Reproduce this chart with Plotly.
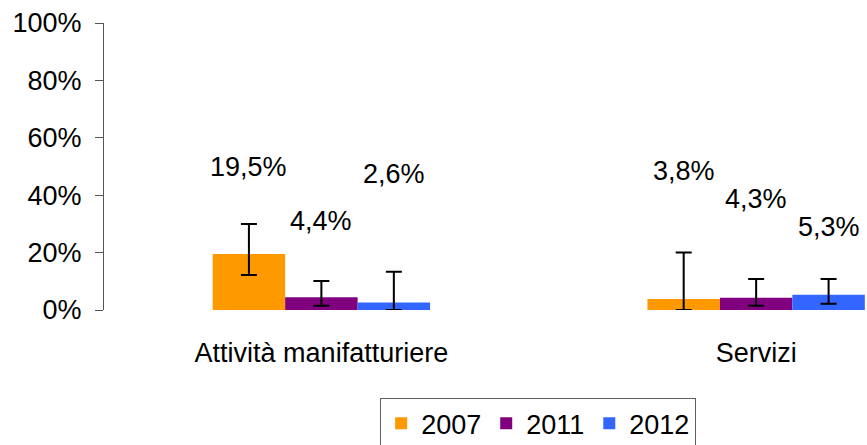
import plotly.graph_objects as go

# Data
categories = ["Attività manifatturiere", "Servizi"]
years = ["2007", "2011", "2012"]
values = {
    "2007": [19.5, 3.8],
    "2011": [4.4, 4.3],
    "2012": [2.6, 5.3],
}
err_high = {
    "2007": [30.0, 20.0],
    "2011": [10.1, 10.8],
    "2012": [13.3, 10.8],
}
err_low = {
    "2007": [12.2, 0.0],
    "2011": [1.5, 1.5],
    "2012": [0.0, 2.2],
}
colors = {"2007": "#FF9900", "2011": "#800080", "2012": "#3366FF"}

# Heights (in % of axis) where value labels are placed
label_heights = {
    "2007": [49.8, 48.4],
    "2011": [31.0, 38.7],
    "2012": [47.4, 29.0],
}

FONT = "Liberation Sans, Arial, sans-serif"
FS = 27

fig = go.Figure()
x_idx = list(range(len(categories)))
for y in years:
    v = values[y]
    fig.add_trace(go.Bar(
        x=x_idx, y=v, name=y,
        marker=dict(color=colors[y], line=dict(width=0)),
        error_y=dict(
            type="data", symmetric=False,
            array=[h - a for h, a in zip(err_high[y], v)],
            arrayminus=[a - l for a, l in zip(v, err_low[y])],
            color="black", thickness=2, width=8,
        ),
    ))

# Value labels above each bar
bar_w = 0.5 / len(years)
annotations = []
for j, y in enumerate(years):
    off = (j - 1) * bar_w
    for i in x_idx:
        annotations.append(dict(
            x=i + off, y=label_heights[y][i], xref="x", yref="y",
            text=f"{values[y][i]:.1f}%".replace(".", ","),
            showarrow=False, font=dict(family=FONT, size=FS, color="black"),
            xanchor="center", yanchor="middle",
        ))

fig.update_layout(
    width=867, height=445,
    margin=dict(l=104, r=0, t=23, b=135, autoexpand=False),
    paper_bgcolor="white", plot_bgcolor="white",
    barmode="group", bargap=0.5, bargroupgap=0,
    font=dict(family=FONT, size=FS, color="black"),
    showlegend=True,
    legend=dict(
        orientation="h", x=0.569, xref="paper", xanchor="center",
        y=-0.307, yanchor="top",
        bordercolor="#606060", borderwidth=1,
        font=dict(family=FONT, size=FS, color="black"),
        tracegroupgap=0,
    ),
    annotations=annotations,
)
fig.update_xaxes(
    range=[-0.5, 1.255], tickmode="array", tickvals=x_idx, ticktext=categories,
    showline=False, showgrid=False, zeroline=False, ticks="",
    ticklabelstandoff=24,
)
fig.update_yaxes(
    range=[0, 100], tickmode="array", tickvals=[0, 20, 40, 60, 80, 100],
    ticktext=["0%", "20%", "40%", "60%", "80%", "100%"],
    showline=True, linecolor="#555555", linewidth=1,
    ticks="outside", ticklen=8, tickcolor="#555555",
    showgrid=False, zeroline=False, ticklabelstandoff=8,
)

fig.write_html("out.html")
